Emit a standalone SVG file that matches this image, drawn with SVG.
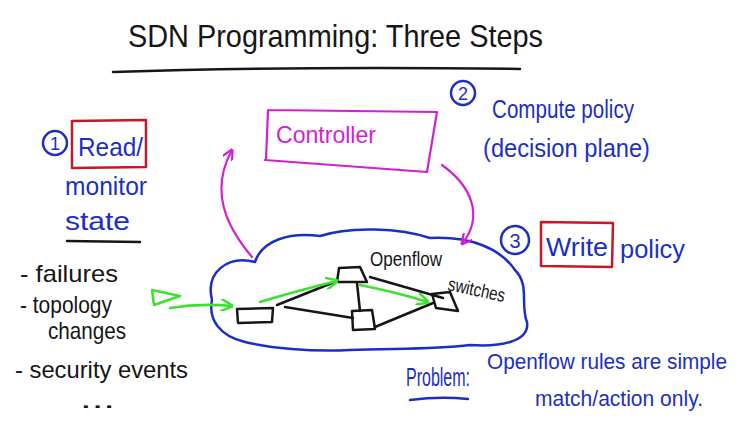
<svg xmlns="http://www.w3.org/2000/svg" width="751" height="424" viewBox="0 0 751 424">
<style>
text{font-family:"Liberation Sans","DejaVu Sans",sans-serif}
.blk{fill:#161616}
.blu{fill:#1c2fc4}
.mag{fill:#d21fd6}
.ln{fill:none;stroke-linecap:round;stroke-linejoin:round}
.k{stroke:#161616;stroke-width:2.5}
.b{stroke:#1c2fc4;stroke-width:2.5}
.m{stroke:#d21fd6;stroke-width:2.2}
.r{stroke:#c8162a;stroke-width:2.5}
.g{stroke:#3fe030;stroke-width:2.5}
</style>
<defs>
<marker id="am" viewBox="0 0 10 10" refX="9" refY="5" markerWidth="5" markerHeight="5" orient="auto"><path d="M0,0 L10,5 L0,10" fill="none" stroke="#d21fd6" stroke-width="2"/></marker>
<marker id="ag" viewBox="0 0 10 10" refX="9" refY="5" markerWidth="5" markerHeight="5" orient="auto"><path d="M0,0 L10,5 L0,10" fill="none" stroke="#3fe030" stroke-width="2"/></marker>
</defs>
<rect width="751" height="424" fill="#fff"/>
<g id="title">
<text x="128" y="47" font-size="32" class="blk" textLength="415" lengthAdjust="spacingAndGlyphs">SDN Programming: Three Steps</text>
<path class="ln k" d="M113,72 Q300,66 520,69"/>
</g>
<g id="step1">
<circle cx="55" cy="143" r="12" class="ln b"/>
<text x="55" y="150" font-size="18" class="blu" text-anchor="middle">1</text>
<path class="ln r" d="M72,121 L146,120 L146,167 L72,168 Z"/>
<text x="78" y="156" font-size="26" class="blu" textLength="65" lengthAdjust="spacingAndGlyphs">Read/</text>
<text x="65" y="195" font-size="26" class="blu" textLength="82" lengthAdjust="spacingAndGlyphs">monitor</text>
<text x="65" y="230" font-size="26" class="blu" textLength="65" lengthAdjust="spacingAndGlyphs">state</text>
<path class="ln k" d="M67,241 L140,242"/>
</g>
<g id="events">
<text x="20" y="282" font-size="24" class="blk" textLength="98" lengthAdjust="spacingAndGlyphs">- failures</text>
<text x="20" y="313" font-size="24" class="blk" textLength="92" lengthAdjust="spacingAndGlyphs">- topology</text>
<text x="48" y="339" font-size="24" class="blk" textLength="78" lengthAdjust="spacingAndGlyphs">changes</text>
<text x="15" y="378" font-size="24" class="blk" textLength="173" lengthAdjust="spacingAndGlyphs">- security events</text>
<text x="80" y="408" font-size="24" class="blk" textLength="35" lengthAdjust="spacingAndGlyphs">...</text>
</g>
<g id="controller">
<path class="ln m" d="M268,110 L437,112 L427,172 M265,160 L427,172 M268,110 L266,160"/>
<text x="276" y="143" font-size="24" class="mag" textLength="100" lengthAdjust="spacingAndGlyphs">Controller</text>
</g>
<g id="step2">
<circle cx="463" cy="93" r="12" class="ln b"/>
<text x="463" y="100" font-size="18" class="blu" text-anchor="middle">2</text>
<text x="492" y="118" font-size="26" class="blu" textLength="142" lengthAdjust="spacingAndGlyphs">Compute policy</text>
<text x="483" y="157" font-size="26" class="blu" textLength="167" lengthAdjust="spacingAndGlyphs">(decision plane)</text>
</g>
<g id="step3">
<circle cx="515" cy="240" r="14" class="ln b"/>
<text x="515" y="248" font-size="20" class="blu" text-anchor="middle">3</text>
<path class="ln r" d="M541,222 L613,223 L612,267 L541,266 Z"/>
<text x="546" y="256" font-size="26" class="blu" textLength="62" lengthAdjust="spacingAndGlyphs">Write</text>
<text x="620" y="258" font-size="26" class="blu" textLength="65" lengthAdjust="spacingAndGlyphs">policy</text>
</g>
<g id="network">
<path class="ln b" d="M212,300 C205,272 228,255 255,262 C262,240 290,232 320,236 C350,226 400,228 430,238 C470,236 500,248 515,270 C530,285 520,305 527,322 C530,342 500,347 470,345 C430,350 390,348 350,350 C310,352 270,348 245,342 C220,336 208,320 212,300 Z"/>
<text x="370" y="266" font-size="20" class="blk" textLength="72" lengthAdjust="spacingAndGlyphs">Openflow</text>
<text x="447" y="290" font-size="19" class="blk" textLength="58" lengthAdjust="spacingAndGlyphs" transform="rotate(12 447 290)">switches</text>
</g>
<g id="switches">
<path class="ln k" id="sw-left" d="M237,309 L273,308 L272,322 L238,323 Z"/>
<path class="ln k" id="sw-top" d="M339,268 L360,267 L367,282 L337,282 Z"/>
<path class="ln k" id="sw-bottom" d="M352,311 L372,310 L375,329 L353,330 Z"/>
<path class="ln k" id="sw-right" d="M432,294 L450,292 L458,311 L436,308 Z"/>
</g>
<g id="connectors">
<path class="ln k" d="M277,305 L337,281"/>
<path class="ln k" d="M285,307 L353,318"/>
<path class="ln k" d="M357,283 L360,311"/>
<path class="ln k" d="M370,277 L443,298"/>
<path class="ln k" d="M375,327 L433,303"/>
<path class="ln m" marker-end="url(#am)" d="M252,257 C225,225 210,190 232,150"/>
<path class="ln m" marker-end="url(#am)" d="M442,165 C470,185 485,215 462,244"/>
<path class="ln g" d="M152,290 L180,296 L154,305 Z"/>
<path class="ln g" marker-end="url(#ag)" d="M170,308 Q200,303 232,306"/>
<path class="ln g" marker-end="url(#ag)" d="M260,302 Q300,290 337,281"/>
<path class="ln g" marker-end="url(#ag)" d="M360,285 Q395,292 428,302"/>
</g>
<g id="problem">
<text x="406" y="386" font-size="26" class="blu" textLength="64" lengthAdjust="spacingAndGlyphs">Problem:</text>
<path class="ln b" d="M410,400 Q440,396 468,399"/>
<text x="487" y="369" font-size="22" class="blu" textLength="240" lengthAdjust="spacingAndGlyphs">Openflow rules are simple</text>
<text x="535" y="406" font-size="22" class="blu" textLength="168" lengthAdjust="spacingAndGlyphs">match/action only.</text>
</g>
</svg>
